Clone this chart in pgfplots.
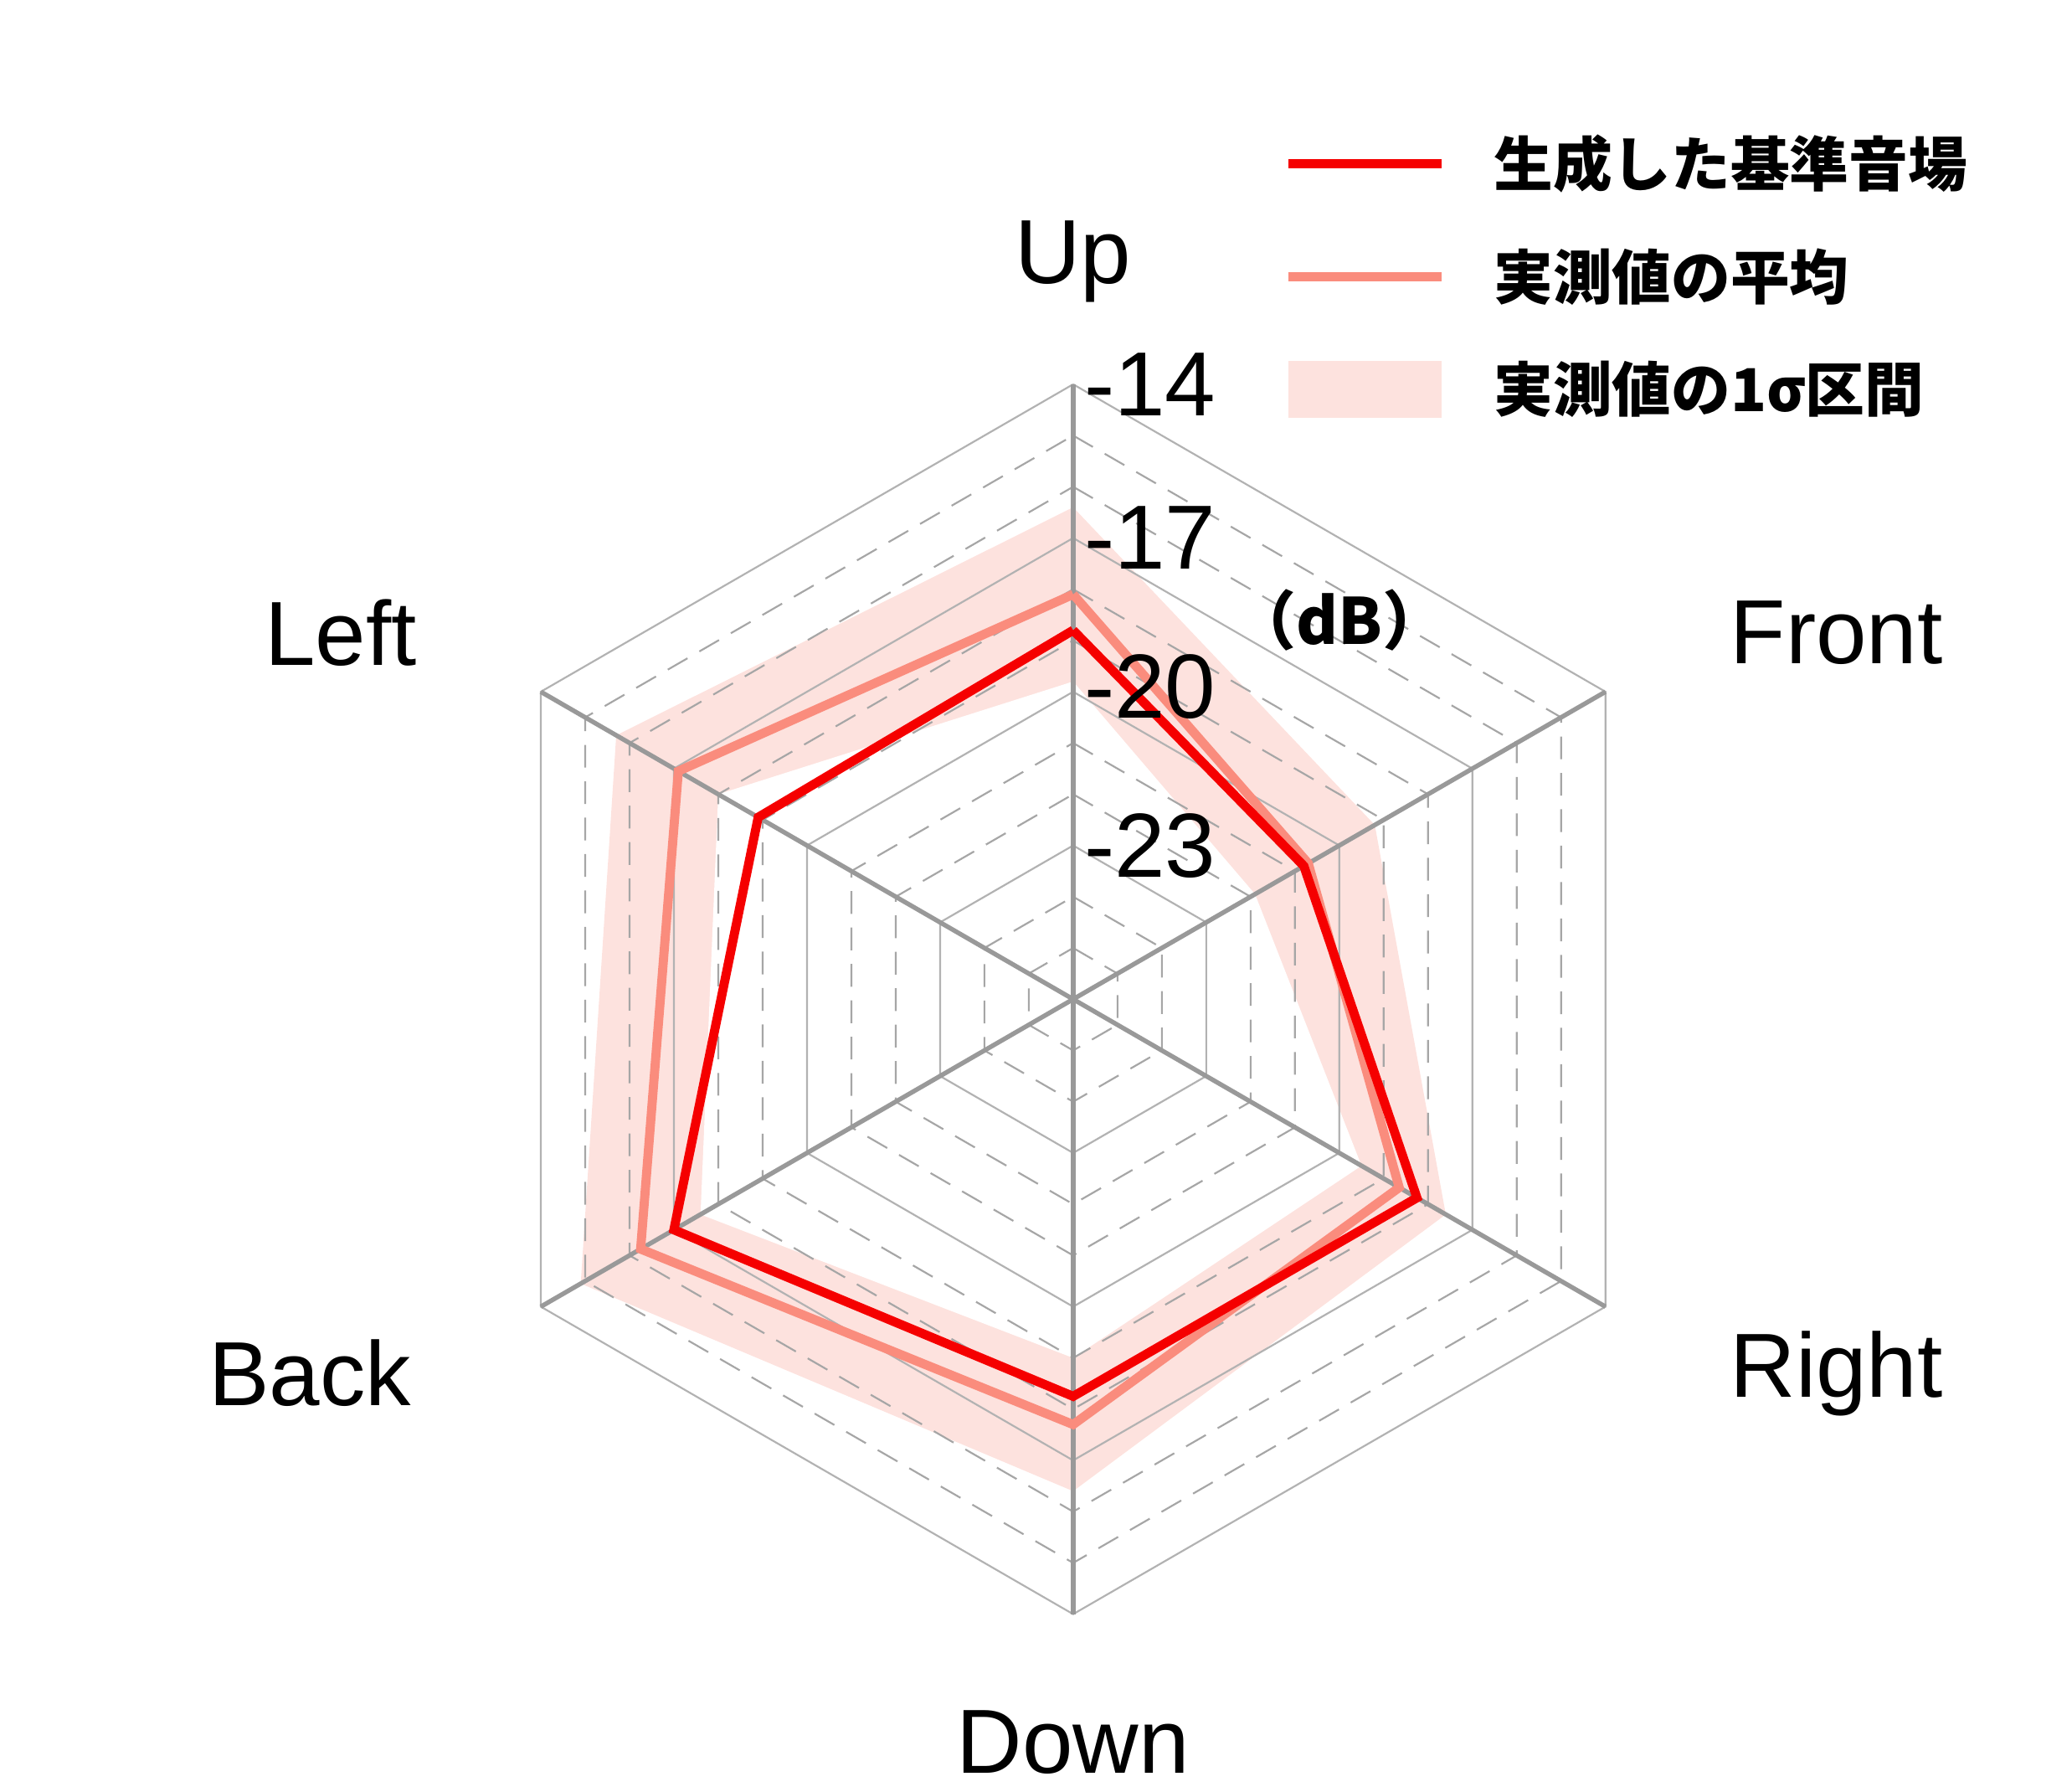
\documentclass[border=0pt]{standalone}
\usepackage{pgfplots}
\usepackage{pgfplotstable}
\pgfplotsset{compat=1.18}
\usepackage{fontspec}
\setmainfont{Liberation Sans}
\newfontfamily\cjk{Noto Sans CJK JP}
\definecolor{gen}{RGB}{245,0,0}
\definecolor{meanc}{RGB}{250,140,125}
\definecolor{band}{RGB}{253,226,222}
\pgfplotstableread{
a gen mean lo hi
90 -18.8 -18.1 -19.8 -16.4
30 -20.8 -20.7 -21.9 -19.2
-30 -18.25 -18.65 -19.5 -17.6
-90 -18.25 -17.7 -19.0 -16.4
210 -17.0 -16.25 -17.6 -14.9
150 -18.9 -17.1 -18.0 -15.7
90 -18.8 -18.1 -19.8 -16.4
}\data
\begin{document}
\begin{tikzpicture}
\begin{axis}[scale only axis, width=16cm, height=13.83cm,
  xmin=-20.95, xmax=19.5, ymin=-15.46, ymax=19.5, hide axis, clip=false]
\addplot[fill=band, draw=none, data cs=polar] table[x=a, y expr=\thisrow{hi}+26] {\data} -- cycle;
\addplot[fill=white, draw=none, data cs=polar] table[x=a, y expr=\thisrow{lo}+26] {\data} -- cycle;
\pgfplotsinvokeforeach{1,2,4,5,7,8,10,11}{
 \addplot[gray!70, dash pattern=on 5pt off 3pt, thin, data cs=polar] coordinates {(90,#1)(30,#1)(-30,#1)(-90,#1)(210,#1)(150,#1)(90,#1)};}
\pgfplotsinvokeforeach{3,6,9,12}{
 \addplot[gray!60, thin, data cs=polar] coordinates {(90,#1)(30,#1)(-30,#1)(-90,#1)(210,#1)(150,#1)(90,#1)};}
\pgfplotsinvokeforeach{90,30,-30,-90,210,150}{
 \addplot[gray!80, line width=1pt, data cs=polar] coordinates {(#1,0)(#1,12)};}
\addplot[meanc, line width=2pt, data cs=polar] table[x=a, y expr=\thisrow{mean}+26] {\data};
\addplot[gen, line width=2pt, data cs=polar] table[x=a, y expr=\thisrow{gen}+26] {\data};
\node[font=\fontsize{20}{24}\selectfont] at (axis cs:0,14.4) {Up};
\node[font=\fontsize{20}{24}\selectfont] at (axis cs:14.9,7.15) {Front};
\node[font=\fontsize{20}{24}\selectfont] at (axis cs:14.9,-7.3) {Right};
\node[font=\fontsize{20}{24}\selectfont] at (axis cs:0,-14.5) {Down};
\node[font=\fontsize{20}{24}\selectfont] at (axis cs:-14.9,-7.3) {Back};
\node[font=\fontsize{20}{24}\selectfont] at (axis cs:-14.3,7.15) {Left};
\node[font=\fontsize{20}{24}\selectfont] at (axis cs:1.5,12) {-14};
\node[font=\fontsize{20}{24}\selectfont] at (axis cs:1.5,9.0) {-17};
\node[font=\fontsize{20}{24}\selectfont] at (axis cs:1.5,6.1) {-20};
\node[font=\fontsize{20}{24}\selectfont] at (axis cs:1.5,3.0) {-23};
\node[font=\cjk\bfseries\fontsize{14}{17}\selectfont] at (axis cs:5.2,7.4) {（dB）};
\draw[gen, line width=2pt] (axis cs:4.2,16.3) -- (axis cs:7.2,16.3);
\draw[meanc, line width=2pt] (axis cs:4.2,14.1) -- (axis cs:7.2,14.1);
\fill[band] (axis cs:4.2,11.35) rectangle (axis cs:7.2,12.45);
\node[anchor=west, font=\cjk\bfseries\fontsize{13}{16}\selectfont] at (axis cs:7.9,16.3) {生成した基準音場};
\node[anchor=west, font=\cjk\bfseries\fontsize{13}{16}\selectfont] at (axis cs:7.9,14.1) {実測値の平均};
\node[anchor=west, font=\cjk\bfseries\fontsize{13}{16}\selectfont] at (axis cs:7.9,11.9) {実測値の1σ区間};
\end{axis}
\pgfresetboundingbox
\useasboundingbox (current axis.south west) rectangle (current axis.north east);
\end{tikzpicture}
\end{document}
